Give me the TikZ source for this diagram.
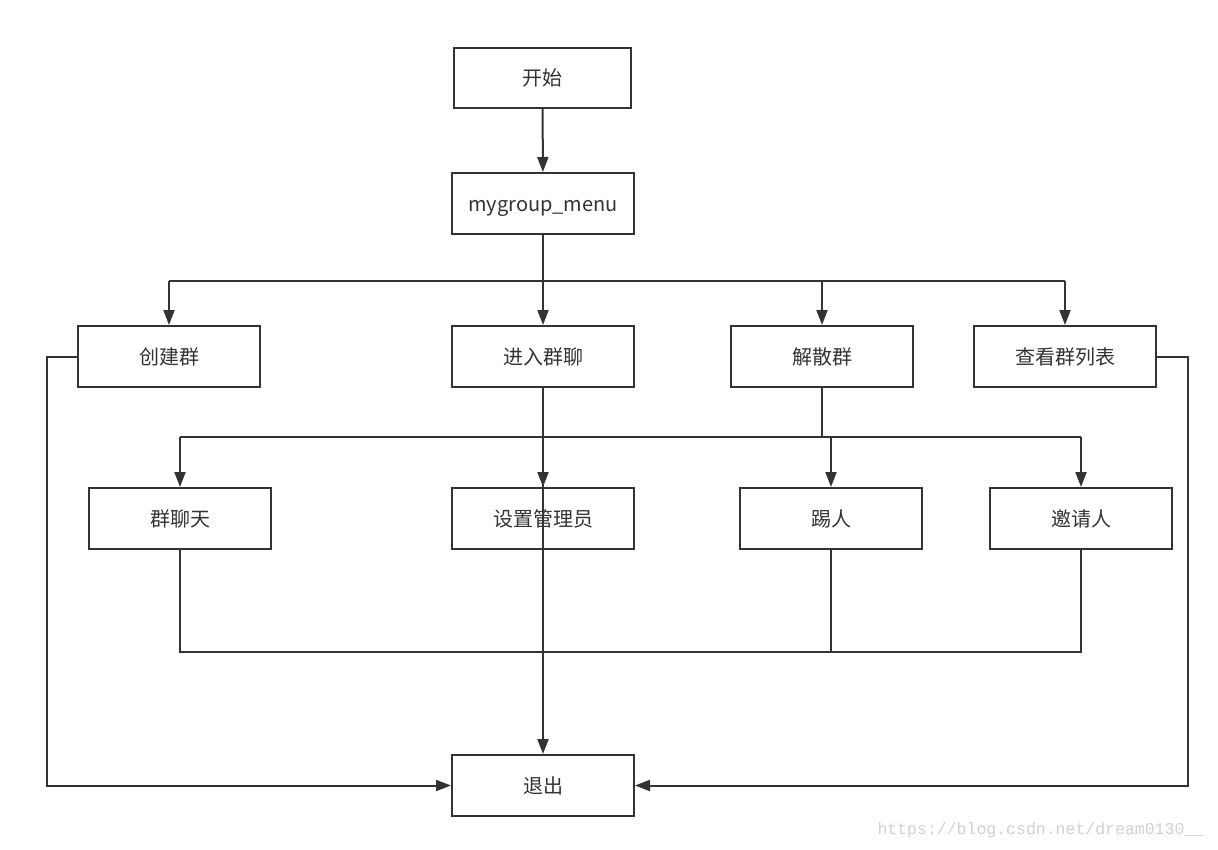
\documentclass[tikz,border=0pt]{standalone}
\usepackage{fontspec}
\setmainfont{Noto Sans CJK SC}
\newfontfamily\wmfont{Liberation Mono}
\usetikzlibrary{arrows.meta}
\definecolor{ln}{HTML}{333333}
\begin{document}
\begin{tikzpicture}[x=1pt,y=1pt,
  box/.style={draw=ln,line width=2pt,fill=white,minimum width=182pt,minimum height=61pt,inner sep=0pt,font=\fontsize{20}{22}\selectfont,text=ln,text height=15.5pt,text depth=0pt},
  conn/.style={draw=ln,line width=2pt},
  arr/.style={conn,-{Triangle[length=15pt,width=11pt]}}]
\useasboundingbox[fill=white] (0,0) rectangle (1218,-849);
\node[box,minimum width=177pt,minimum height=60pt] (start) at (542.5,-78) {开始};
\node[box] (menu) at (543,-203.5) {mygroup\_menu};
\node[box] (create) at (169,-356.5) {创建群};
\node[box] (enter) at (543,-356.5) {进入群聊};
\node[box] (dissolve) at (822,-356.5) {解散群};
\node[box] (list) at (1065,-356.5) {查看群列表};
\node[box] (chat) at (180,-518.5) {群聊天};
\node[box] (admin) at (543,-518.5) {设置管理员};
\node[box] (kick) at (831,-518.5) {踢人};
\node[box] (invite) at (1081,-518.5) {邀请人};
\node[box] (quit) at (543,-785.5) {退出};
\node[font=\wmfont\fontsize{16.5}{18}\selectfont,text=black!18,anchor=west] (wm) at (874,-830) {https://blog.csdn.net/dream0130\_\_};
% first bus
\coordinate (a1) at (169,-281);
\coordinate (a2) at (543,-281);
\coordinate (a3) at (822,-281);
\coordinate (a4) at (1065,-281);
\draw[arr] (start) -- (menu);
\draw[conn] (menu.south) -- (a2);
\draw[conn] (a1) -- (a4);
\draw[arr] (a1) -- (create);
\draw[arr] (a2) -- (enter);
\draw[arr] (a3) -- (dissolve);
\draw[arr] (a4) -- (list);
% side loops
\draw[arr] (create.west) -- ++(-30,0) |- (quit.west);
\draw[arr] (list.east) -- ++(31,0) |- (quit.east);
% second bus
\coordinate (b1) at (180,-437);
\coordinate (b2) at (543,-437);
\coordinate (b3) at (822,-437);
\coordinate (b4) at (831,-437);
\coordinate (b5) at (1081,-437);
\draw[conn] (enter.south) -- (b2);
\draw[conn] (dissolve.south) -- (b3);
\draw[conn] (b1) -- (b5);
\draw[arr] (b1) -- (chat);
\draw[arr] (b2) -- (admin.north);
\draw[arr] (b4) -- (kick);
\draw[arr] (b5) -- (invite);
% third bus
\coordinate (c1) at (180,-652);
\coordinate (c2) at (831,-652);
\coordinate (c3) at (1081,-652);
\draw[conn] (chat.south) -- (c1) -- (c3) -- (invite.south);
\draw[conn] (kick.south) -- (c2);
\draw[arr] (b2) -- (quit.north);
\end{tikzpicture}
\end{document}
